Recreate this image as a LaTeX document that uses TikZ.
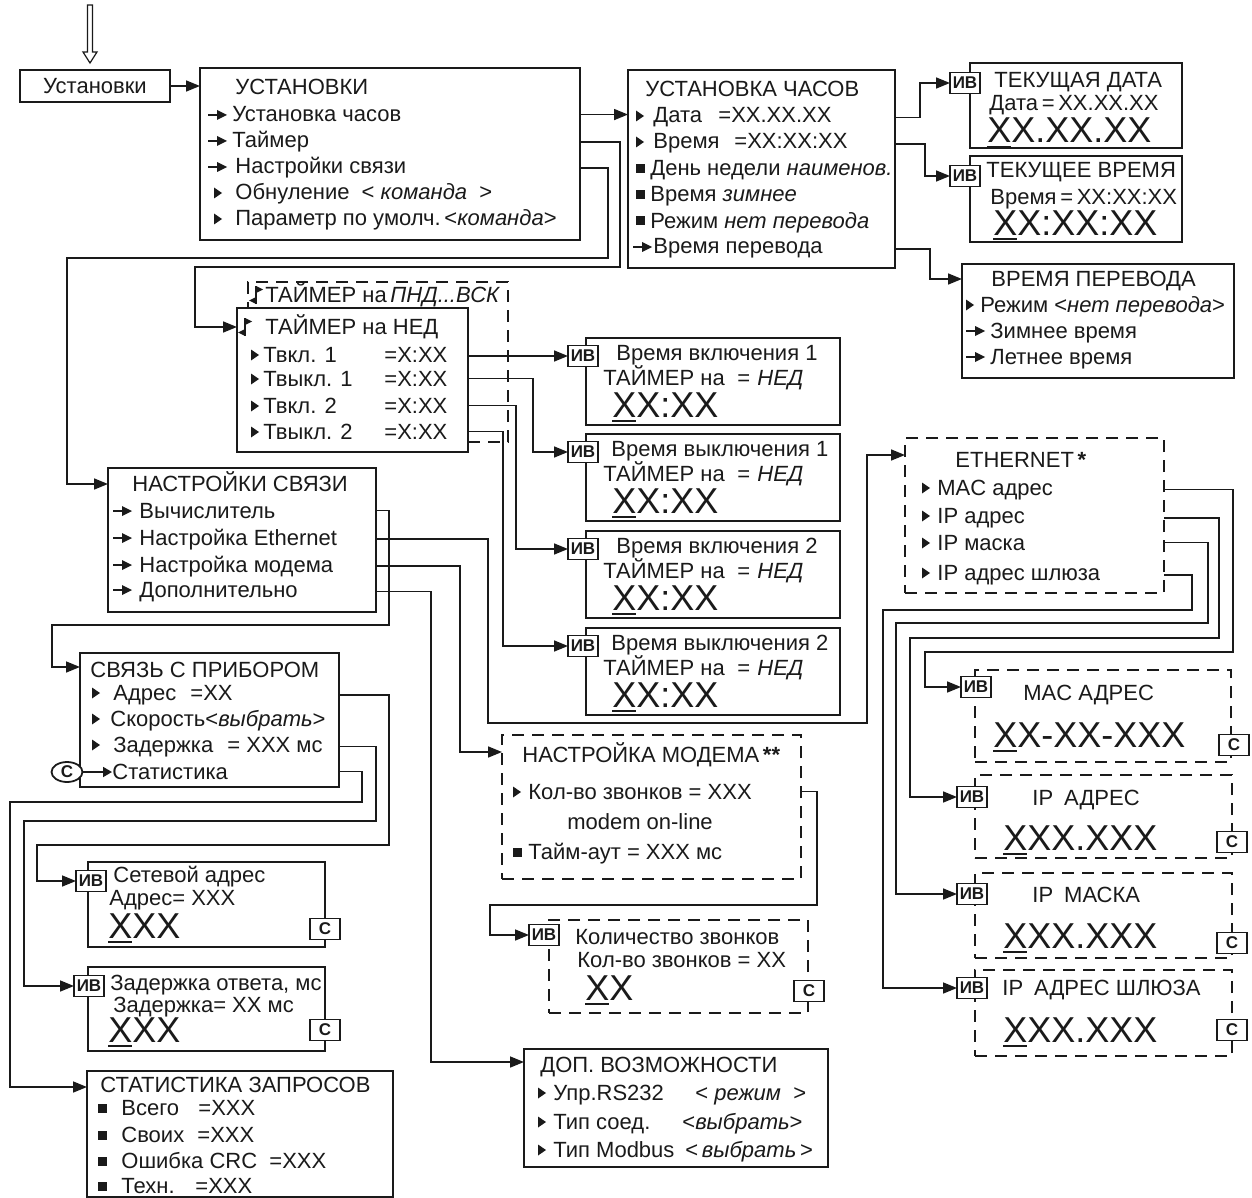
\documentclass[tikz,border=0pt]{standalone}
\usepackage{fontspec}
\setmainfont{Liberation Sans}
\usetikzlibrary{arrows.meta,shapes.geometric}
\definecolor{ink}{HTML}{1A1A1A}
\newcommand{\fnorm}{\fontsize{11}{13}\selectfont}
\newcommand{\fbig}{\fontsize{18}{20}\selectfont}
\newcommand{\ux}{\setbox0=\hbox{X}\rlap{\rule[-2.6pt]{\wd0}{1.1pt}}X}
\newcommand{\panel}[6][]{\node[panel,#1,minimum width={(#5-#3)*0.5pt},minimum height={(#6-#4)*0.5pt}] (#2) at ({(#3+#5)/2},{(#4+#6)/2}) {};}
\tikzset{
  panel/.style={draw=ink,line width=.9pt,fill=white,inner sep=0,outer sep=0},
  dpanel/.style={line width=1.2pt,dash pattern=on 6pt off 4pt},
  txt/.style={anchor=base west,inner sep=0,text=ink,font=\fnorm},
  big/.style={anchor=base west,inner sep=0,text=ink,font=\fbig},
  tag/.style={draw=ink,line width=.9pt,fill=white,inner sep=0,outer sep=0,minimum width=15pt,minimum height=10.5pt,text=ink,font=\bfseries\fontsize{8.5}{9}\selectfont},
  ell/.style={draw=ink,line width=.9pt,fill=white,ellipse,inner sep=0,minimum width=15.5pt,minimum height=10pt,text=ink,font=\bfseries\fontsize{8.5}{9}\selectfont},
  conn/.style={draw=ink,line width=.8pt,-{Triangle[length=7pt,width=5.5pt]}},
  tiny arrow/.style={draw=ink,line width=.9pt,-{Triangle[length=4.5pt,width=5pt]}},
  tri/.pic={\fill[ink] (0,-5.5) -- (8,0) -- (0,5.5) -- cycle;},
  sqr/.pic={\fill[ink] (0,-4.5) rectangle (9,4.5);},
  arw/.pic={\draw[ink,line width=1pt] (0,0) -- (10,0); \fill[ink] (9,-5) -- (19,0) -- (9,5) -- cycle;},
  flag/.pic={\draw[ink,line width=.9pt] (0,-9) -- (0,9); \fill[ink] (0,-9) -- (7,-5.5) -- (0,-2) -- cycle; \fill[ink] (0,9) -- (-7,5.5) -- (0,2) -- cycle;},
}
\begin{document}
\begin{tikzpicture}[x=0.5pt,y=-0.5pt]
\useasboundingbox (0,0) rectangle (1252,1198);
% entry
\draw[ink,line width=.6pt] (87.5,5) -- (87.5,52) -- (83,52) -- (90,63) -- (97,52) -- (92.5,52) -- (92.5,5) -- cycle;
\node[panel,line width=1.4pt,minimum width=75pt,minimum height=16pt,text=ink,font=\fnorm] (start) at (95,86) {Установки};
% main menu
\panel{ust}{200}{68}{580}{240}
\node[txt] (u0) at (235,95) {УСТАНОВКИ};
\pic at (208,115) {arw}; \node[txt] (u1) at (232,122) {Установка часов};
\pic at (208,141) {arw}; \node[txt] (u2) at (232,148) {Таймер};
\pic at (208,167) {arw}; \node[txt] (u3) at (235,174) {Настройки связи};
\pic at (214,193) {tri}; \node[txt] (u4) at (235,200) {Обнуление\ \ <\ \textit{команда}\ \ >};
\pic at (214,219) {tri}; \node[txt] (u5) at (235,226) {Параметр по умолч.\,<\textit{команда}>};
% clock
\panel{clk}{628}{70}{895}{268}
\node[txt] (c0) at (645,97) {УСТАНОВКА ЧАСОВ};
\pic at (636,116) {tri}; \node[txt] (c1) at (653,123) {Дата}; \node[txt] (c1v) at (718,123) {=XX.XX.XX};
\pic at (636,142) {tri}; \node[txt] (c2) at (653,149) {Время}; \node[txt] (c2v) at (734,149) {=XX:XX:XX};
\pic at (636,169) {sqr}; \node[txt] (c3) at (650,176) {День недели \textit{наименов.}};
\pic at (636,195) {sqr}; \node[txt] (c4) at (650,202) {Время \textit{зимнее}};
\pic at (636,221) {sqr}; \node[txt] (c5) at (650,228) {Режим \textit{нет перевода}};
\pic at (633,247) {arw}; \node[txt] (c6) at (653,254) {Время перевода};
% date / time
\panel{date}{970}{63}{1182}{148}
\node[txt] (dt0) at (994,88) {ТЕКУЩАЯ ДАТА};
\node[txt] (dt1) at (989,111) {Дата\,=\,XX.XX.XX};
\node[big] (dt2) at (987,143) {\ux X.XX.XX};
\node[tag] (tagdate) at (965,83) {ИВ};
\panel{time}{970}{156}{1182}{242}
\node[txt] (tm0) at (986,178) {ТЕКУЩЕЕ ВРЕМЯ};
\node[txt] (tm1) at (990,205) {Время\,=\,XX:XX:XX};
\node[big] (tm2) at (993,235) {\ux X:XX:XX};
\node[tag] (tagtime) at (965,176) {ИВ};
\panel{dst}{962}{264}{1234}{378}
\node[txt] (d0) at (991,286) {ВРЕМЯ ПЕРЕВОДА};
\pic at (966,305) {tri}; \node[txt] (d1) at (980,312) {Режим <\textit{нет перевода}>};
\pic at (966,331) {arw}; \node[txt] (d2) at (990,338) {Зимнее время};
\pic at (966,357) {arw}; \node[txt] (d3) at (990,364) {Летнее время};
% timer
\panel[dpanel]{tmrd}{248}{282}{508}{442}
\pic at (256,295) {flag}; \node[txt] (td0) at (265,302) {ТАЙМЕР на\,\textit{ПНД...ВСК}};
\panel{tmr}{237}{308}{468}{452}
\pic at (245,327) {flag}; \node[txt] (t0) at (265,334) {ТАЙМЕР на НЕД};
\foreach \i/\lb/\yy in {1/Твкл. 1/355,2/Твыкл. 1/379,3/Твкл. 2/406,4/Твыкл. 2/432}{
  \pic at (251,\yy) {tri};
  \node[txt] (t\i) at (263,\yy+7) {\lb};
  \node[txt] (tv\i) at (384,\yy+7) {=X:XX};
}
\foreach \nm/\ttl/\tx/\T in {on1/Время включения 1/616/338,off1/Время выключения 1/611/434,on2/Время включения 2/616/531,off2/Время выключения 2/611/628}{
  \panel{\nm}{586}{\T}{840}{\T+87}
  \node[txt] (\nm-ttl) at (\tx,\T+22) {\ttl};
  \node[txt] (\nm-on) at (603,\T+47) {ТАЙМЕР на};
  \node[txt] (\nm-eq) at (737,\T+47) {=};
  \node[txt] (\nm-day) at (757,\T+47) {\textit{НЕД}};
  \node[big] (\nm-val) at (612,\T+79) {\ux X:XX};
  \node[tag] (tag\nm) at (583,\T+18) {ИВ};
}
% communication
\panel{net}{108}{468}{376}{612}
\node[txt] (n0) at (132,491) {НАСТРОЙКИ СВЯЗИ};
\pic at (113,511) {arw}; \node[txt] (n1) at (139,518) {Вычислитель};
\pic at (113,538) {arw}; \node[txt] (n2) at (139,545) {Настройка Ethernet};
\pic at (113,565) {arw}; \node[txt] (n3) at (139,572) {Настройка модема};
\pic at (113,590) {arw}; \node[txt] (n4) at (139,597) {Дополнительно};
\panel{dev}{80}{653}{339}{787}
\node[txt] (v0) at (90,677) {СВЯЗЬ С ПРИБОРОМ};
\pic at (92,693) {tri}; \node[txt] (v1) at (113,700) {Адрес}; \node[txt] (v1v) at (190,700) {=XX};
\pic at (92,719) {tri}; \node[txt] (v2) at (110,726) {Скорость<\textit{выбрать}>};
\pic at (92,745) {tri}; \node[txt] (v3) at (113,752) {Задержка}; \node[txt] (v3v) at (227,752) {= XXX мс};
\node[ell] (cst) at (67,772) {С}; \node[txt] (v4) at (112,779) {Статистика};
\draw[tiny arrow] (cst.east) -- (cst.east -| v4.west);
\panel{addr}{88}{862}{325}{947}
\node[txt] (a0) at (113,882) {Сетевой адрес};
\node[txt] (a1) at (109,905) {Адрес= XXX};
\node[big] (a2) at (108,938) {\ux XX};
\node[tag] (tagaddr) at (91,881) {ИВ};
\node[tag] (caddr) at (325,929) {С};
\panel{dly}{88}{967}{325}{1051}
\node[txt] (l0) at (110,990) {Задержка ответа, мс};
\node[txt] (l1) at (113,1012) {Задержка= XX мс};
\node[big] (l2) at (108,1042) {\ux XX};
\node[tag] (tagdly) at (89,986) {ИВ};
\node[tag] (cdly) at (325,1030) {С};
\panel{stat}{87}{1071}{393}{1197}
\node[txt] (s0) at (100,1092) {СТАТИСТИКА ЗАПРОСОВ};
\foreach \i/\lb/\vx/\yy in {1/Всего/198/1108,2/Своих/197/1135,3/Ошибка CRC/269/1161,4/Техн./195/1186}{
  \pic at (98,\yy) {sqr};
  \node[txt] (s\i) at (121,\yy+7) {\lb};
  \node[txt] (sv\i) at (\vx,\yy+7) {=XXX};
}
% ethernet
\panel[dpanel]{eth}{905}{438}{1164}{593}
\node[txt] (e0) at (955,467) {ETHERNET\,\textbf{*}};
\pic at (922,488) {tri}; \node[txt] (e1) at (937,495) {MAC адрес};
\pic at (922,516) {tri}; \node[txt] (e2) at (937,523) {IP адрес};
\pic at (922,543) {tri}; \node[txt] (e3) at (937,550) {IP маска};
\pic at (922,573) {tri}; \node[txt] (e4) at (937,580) {IP адрес шлюза};
\panel[dpanel]{mac}{975}{670}{1231}{762}
\node[txt] (mc0) at (1023,700) {MAC АДРЕС};
\node[big] (mc1) at (993,747) {\ux X-XX-XXX};
\node[tag] (tagmac) at (976,687) {ИВ};
\node[tag] (cmac) at (1234,745) {С};
\panel[dpanel]{ip}{975}{775}{1232}{858}
\node[txt] (ip0) at (1032,805) {IP\enspace АДРЕС};
\node[big] (ip1) at (1003,850) {\ux XX.XXX};
\node[tag] (tagip) at (972,797) {ИВ};
\node[tag] (cip) at (1232,842) {С};
\panel[dpanel]{mask}{975}{873}{1232}{958}
\node[txt] (mk0) at (1032,902) {IP\enspace МАСКА};
\node[big] (mk1) at (1003,948) {\ux XX.XXX};
\node[tag] (tagmask) at (972,894) {ИВ};
\node[tag] (cmask) at (1232,943) {С};
\panel[dpanel]{gw}{975}{970}{1232}{1056}
\node[txt] (gw0) at (1002,995) {IP\enspace АДРЕС ШЛЮЗА};
\node[big] (gw1) at (1003,1042) {\ux XX.XXX};
\node[tag] (taggw) at (972,988) {ИВ};
\node[tag] (cgw) at (1232,1030) {С};
% modem
\panel[dpanel]{mdm}{502}{735}{801}{879}
\node[txt] (m0) at (522,762) {НАСТРОЙКА МОДЕМА\,\textbf{**}};
\pic at (513,792) {tri}; \node[txt] (m1) at (528,799) {Кол-во звонков = XXX};
\node[txt,anchor=base] (m2) at (640,829) {modem on-line};
\pic at (513,852) {sqr}; \node[txt] (m3) at (528,859) {Тайм-аут = XXX мс};
\panel[dpanel]{ring}{549}{920}{808}{1013}
\node[txt] (g0) at (575,944) {Количество звонков};
\node[txt] (g1) at (577,967) {Кол-во звонков = XX};
\node[big] (g2) at (585,1000) {\ux X};
\node[tag] (tagring) at (544,935) {ИВ};
\node[tag] (cring) at (809,991) {С};
% extras
\panel{dop}{524}{1049}{828}{1167}
\node[txt] (p0) at (540,1072) {ДОП. ВОЗМОЖНОСТИ};
\pic at (538,1093) {tri}; \node[txt] (p1) at (553,1100) {Упр.RS232}; \node[txt] (p1v) at (695,1100) {<\ \textit{режим}\ \ >};
\pic at (538,1122) {tri}; \node[txt] (p2) at (553,1129) {Тип соед.}; \node[txt] (p2v) at (682,1129) {<\textit{выбрать}>};
\pic at (538,1150) {tri}; \node[txt] (p3) at (553,1157) {Тип Modbus}; \node[txt] (p3v) at (685,1157) {<\,\textit{выбрать}\,>};
% connectors
\draw[conn] (start.east) -- (start.east -| ust.west);
\draw[conn] (ust.east |- u1) -- (clk.west |- u1);
\draw[conn] (ust.east |- u2) -| (620,267) -| (195,327) -- (tmr.west |- 0,327);
\draw[conn] (ust.east |- u3) -| (608,258) -| (67,484) -- (net.west |- 0,484);
\draw[conn] (clk.east |- c1) -| (920,83) -- (tagdate.west);
\draw[conn] (clk.east |- c2) -| (925,176) -- (tagtime.west);
\draw[conn] (clk.east |- c6) -| (930,279) -- (dst.west |- 0,279);
\draw[conn] (tmr.east |- tagon1) -- (tagon1.west);
\draw[conn] (tmr.east |- t2) -| (533,452) -- (tagoff1.west);
\draw[conn] (tmr.east |- t3) -| (516,549) -- (tagon2.west);
\draw[conn] (tmr.east |- t4) -| (503,646) -- (tagoff2.west);
\draw[conn] (net.east |- n1) -| (389,625) -| (52,667) -- (dev.west |- 0,667);
\draw[conn] (net.east |- n2) -| (488,723) -| (867,455) -- (eth.west |- 0,455);
\draw[conn] (net.east |- n3) -| (460,752) -- (mdm.west |- 0,752);
\draw[conn] (net.east |- n4) -| (431,1062) -- (dop.west |- 0,1062);
\draw[conn] (dev.east |- v1) -| (389,845) -| (37,881) -- (tagaddr.west);
\draw[conn] (dev.east |- v3) -| (376,821) -| (24,986) -- (tagdly.west);
\draw[conn] (dev.east |- v4) -| (362,802) -| (10,1087) -- (stat.west |- 0,1087);
\draw[conn] (mdm.east |- m1) -| (817,905) -| (490,935) -- (tagring.west);
\draw[conn] (eth.east |- e1) -| (1233,652) -| (925,687) -- (tagmac.west);
\draw[conn] (eth.east |- e2) -| (1219,638) -| (910,797) -- (tagip.west);
\draw[conn] (eth.east |- e3) -| (1208,623) -| (896,894) -- (tagmask.west);
\draw[conn] (eth.east |- e4) -| (1192,610) -| (883,988) -- (taggw.west);
\end{tikzpicture}
\end{document}
